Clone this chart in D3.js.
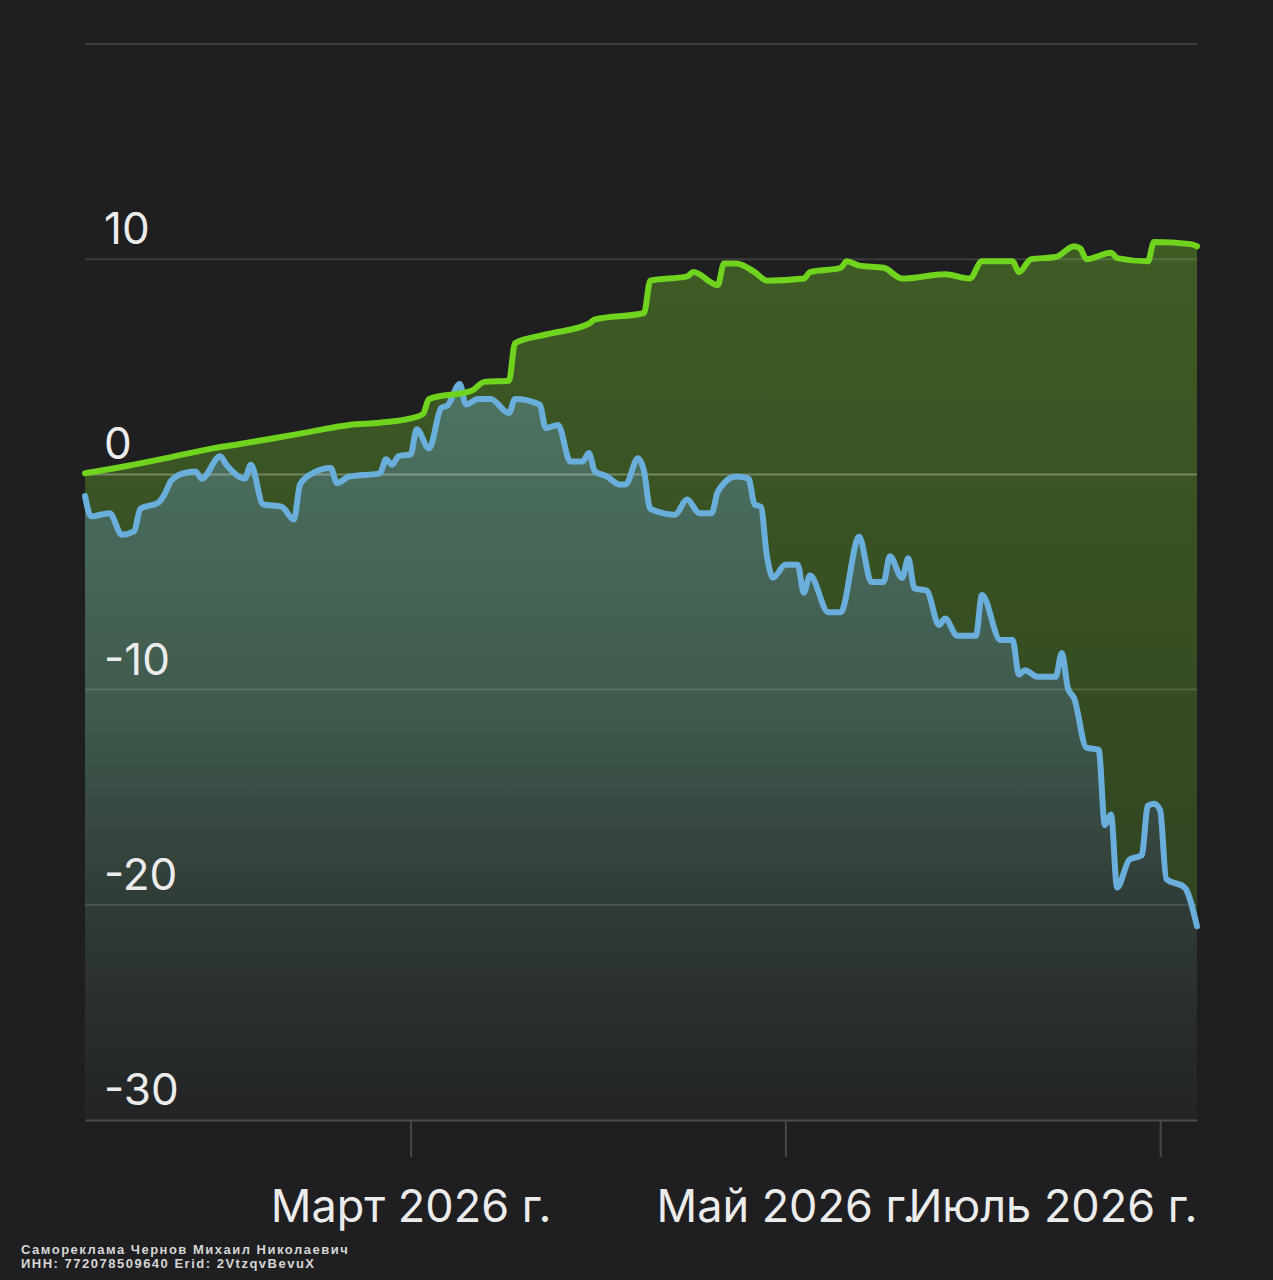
<!DOCTYPE html>
<html>
<head>
<meta charset="utf-8">
<script src="https://cdn.jsdelivr.net/npm/d3@7"></script>
<style>
  html, body { margin: 0; padding: 0; background: #1f1f21; }
  svg { display: block; }
</style>
</head>
<body>
<script>
// chart values
var greenDates = ["2026-01-07","2026-01-14","2026-01-21","2026-01-28","2026-02-01","2026-02-07","2026-02-13","2026-02-19","2026-02-24","2026-03-01",
  "2026-03-03","2026-03-04","2026-03-11","2026-03-13","2026-03-17","2026-03-18","2026-03-23","2026-03-30","2026-03-31","2026-04-08",
  "2026-04-09","2026-04-15","2026-04-16","2026-04-20","2026-04-21","2026-04-23","2026-04-26","2026-04-28","2026-05-04","2026-05-05",
  "2026-05-10","2026-05-11","2026-05-13","2026-05-17","2026-05-20","2026-05-27","2026-05-31","2026-06-02","2026-06-07","2026-06-08",
  "2026-06-10","2026-06-14","2026-06-17","2026-06-18","2026-06-19","2026-06-23","2026-06-24","2026-06-29","2026-06-30","2026-07-06","2026-07-07"];
var greenValues = [0.05,0.4,0.8,1.22,1.4,1.69,2.0,2.3,2.4,2.6,
  2.8,3.5,3.9,4.3,4.35,6.1,6.5,7.0,7.2,7.5,
  9.0,9.2,9.4,8.8,9.8,9.8,9.4,9.0,9.1,9.4,
  9.6,9.9,9.7,9.6,9.1,9.3,9.1,9.9,9.9,9.4,
  10.0,10.1,10.6,10.5,10.0,10.3,10.05,9.9,10.8,10.7,10.6];

var blueDates = ["2026-01-07","2026-01-08","2026-01-11","2026-01-13","2026-01-15","2026-01-16","2026-01-19","2026-01-20","2026-01-21","2026-01-23",
  "2026-01-25","2026-01-26","2026-01-29","2026-01-30","2026-02-02","2026-02-03","2026-02-05","2026-02-08","2026-02-10","2026-02-11",
  "2026-02-13","2026-02-16","2026-02-17","2026-02-19","2026-02-24","2026-02-25","2026-02-26","2026-02-27","2026-03-01","2026-03-02",
  "2026-03-04","2026-03-06","2026-03-07","2026-03-09","2026-03-10","2026-03-12","2026-03-14","2026-03-17","2026-03-18","2026-03-22",
  "2026-03-23","2026-03-25","2026-03-27","2026-03-29","2026-03-30","2026-03-31","2026-04-02","2026-04-04","2026-04-05","2026-04-07",
  "2026-04-08","2026-04-09","2026-04-13","2026-04-15","2026-04-17","2026-04-19","2026-04-20","2026-04-23","2026-04-25","2026-04-26",
  "2026-04-27","2026-04-28","2026-04-29","2026-05-01","2026-05-03","2026-05-04","2026-05-05","2026-05-08","2026-05-10","2026-05-13",
  "2026-05-15","2026-05-17","2026-05-18","2026-05-20","2026-05-21","2026-05-22","2026-05-24","2026-05-26","2026-05-27","2026-05-29",
  "2026-06-01","2026-06-02","2026-06-05","2026-06-07","2026-06-08","2026-06-09","2026-06-11","2026-06-14","2026-06-15","2026-06-16",
  "2026-06-17","2026-06-19","2026-06-21","2026-06-22","2026-06-23","2026-06-24","2026-06-26","2026-06-28","2026-06-29","2026-06-30",
  "2026-07-01","2026-07-02","2026-07-05","2026-07-07"];
var blueValues = [-1.0,-1.95,-1.8,-2.8,-2.65,-1.6,-1.3,-0.9,-0.3,0.05,
  0.14,-0.2,0.84,0.45,-0.2,0.45,-1.4,-1.5,-2.1,-0.47,
  0.05,0.3,-0.4,-0.1,0.05,0.7,0.45,0.84,0.93,2.1,
  1.2,3.1,3.2,4.2,3.25,3.5,3.5,2.85,3.5,3.25,
  2.15,2.3,0.6,0.6,1.0,0.14,-0.1,-0.47,-0.47,0.75,
  0.14,-1.6,-1.87,-1.17,-1.8,-1.8,-0.8,-0.1,-0.2,-1.4,
  -1.5,-3.8,-4.8,-4.2,-4.2,-5.5,-4.7,-6.4,-6.4,-2.9,
  -5.0,-5.0,-3.8,-4.8,-3.9,-5.3,-5.4,-7.0,-6.7,-7.5,
  -7.5,-5.6,-7.7,-7.7,-9.3,-9.1,-9.4,-9.4,-8.3,-9.95,
  -10.4,-12.7,-12.8,-16.3,-15.8,-19.2,-17.9,-17.7,-15.4,-15.3,
  -15.6,-18.8,-19.2,-21.0];

var yTicks = [20, 10, 0, -10, -20, -30];
var yTickLabels = ["", "10", "0", "-10", "-20", "-30"];
var xTicks = ["2026-03-01", "2026-05-01", "2026-07-01"];
var xTickLabels = ["Март 2026 г.", "Май 2026 г.", "Июль 2026 г."];

var footerLines = ["Самореклама Чернов Михаил Николаевич", "ИНН: 772078509640 Erid: 2VtzqvBevuX"];

var parse = d3.timeParse("%Y-%m-%d");
var green = greenDates.map(function(d, i) { return { date: parse(d), value: greenValues[i] }; });
var blue = blueDates.map(function(d, i) { return { date: parse(d), value: blueValues[i] }; });

var W = 1273, H = 1280;
var margin = { top: 44, right: 76, bottom: 160, left: 85 };
var x0 = margin.left, x1 = W - margin.right;
var yTop = margin.top, yBot = H - margin.bottom;

var x = d3.scaleTime()
  .domain([parse("2026-01-07"), parse("2026-07-07")])
  .range([x0, x1]);
var y = d3.scaleLinear().domain([-30, 20]).range([yBot, yTop]);

var svg = d3.select("body").append("svg")
  .attr("width", W)
  .attr("height", H);

svg.append("rect").attr("width", W).attr("height", H).attr("fill", "#1f1f21");

var defs = svg.append("defs");
var gg = defs.append("linearGradient").attr("id", "gGreen")
  .attr("gradientUnits", "userSpaceOnUse")
  .attr("x1", 0).attr("x2", 0).attr("y1", y(11)).attr("y2", yBot);
gg.append("stop").attr("offset", 0).attr("stop-color", "#3f5c25");
gg.append("stop").attr("offset", 1).attr("stop-color", "#2c3e20");

var bg = defs.append("linearGradient").attr("id", "gBlue")
  .attr("gradientUnits", "userSpaceOnUse")
  .attr("x1", 0).attr("x2", 0).attr("y1", y(4.5)).attr("y2", yBot);
bg.append("stop").attr("offset", 0).attr("stop-color", "#4e7462");
bg.append("stop").attr("offset", 0.45).attr("stop-color", "#3f5a4d");
bg.append("stop").attr("offset", 0.75).attr("stop-color", "#2e3733");
bg.append("stop").attr("offset", 1).attr("stop-color", "#222325");

var curve = d3.curveMonotoneX;

var area = d3.area()
  .x(function(d) { return x(d.date); })
  .y0(yBot)
  .y1(function(d) { return y(d.value); })
  .curve(curve);

var line = d3.line()
  .x(function(d) { return x(d.date); })
  .y(function(d) { return y(d.value); })
  .curve(curve);

// fills
svg.append("path").datum(green).attr("d", area).attr("fill", "url(#gGreen)");
svg.append("path").datum(blue).attr("d", area).attr("fill", "url(#gBlue)");

// grid lines on top of fills
svg.append("g").selectAll("line")
  .data(yTicks.slice(0, yTicks.length - 1))
  .enter().append("line")
  .attr("x1", x0).attr("x2", x1)
  .attr("y1", function(d) { return y(d); })
  .attr("y2", function(d) { return y(d); })
  .attr("stroke", "#ffffff")
  .attr("stroke-opacity", function(d) { return d === 0 ? 0.3 : 0.13; })
  .attr("stroke-width", 2);

// bottom axis
var xAxis = d3.axisBottom(x)
  .tickValues(xTicks.map(parse))
  .tickSizeInner(37)
  .tickSizeOuter(0)
  .tickFormat(function(d, i) { return xTickLabels[i]; });

var ax = svg.append("g")
  .attr("transform", "translate(0," + yBot + ")")
  .call(xAxis);
ax.select(".domain").attr("stroke", "#4d4d50").attr("stroke-width", 2);
ax.selectAll(".tick line").attr("stroke", "#48484b").attr("stroke-width", 2);
ax.selectAll(".tick text")
  .attr("fill", "#ececec")
  .attr("font-family", "Inter, 'Open Sans', sans-serif")
  .attr("font-size", 45)
  .attr("y", 102)
  .attr("dy", 0)
  .attr("text-anchor", function(d, i) { return i === xTicks.length - 1 ? "end" : "middle"; })
  .attr("x", function(d, i) { return i === xTicks.length - 1 ? x1 - x(d) : 0; });

// y labels
svg.append("g").selectAll("text")
  .data(yTicks)
  .enter().append("text")
  .attr("x", 104)
  .attr("y", function(d) { return y(d) - 15; })
  .attr("fill", "#ececec")
  .attr("font-family", "Inter, 'Open Sans', sans-serif")
  .attr("font-size", 44)
  .text(function(d, i) { return yTickLabels[i]; });

// lines
svg.append("path").datum(blue).attr("d", line)
  .attr("fill", "none").attr("stroke", "#6aaedc").attr("stroke-width", 6)
  .attr("stroke-linejoin", "round").attr("stroke-linecap", "round");
svg.append("path").datum(green).attr("d", line)
  .attr("fill", "none").attr("stroke", "#70d41e").attr("stroke-width", 6)
  .attr("stroke-linejoin", "round").attr("stroke-linecap", "round");

// footer
svg.append("g").selectAll("text")
  .data(footerLines)
  .enter().append("text")
  .attr("x", 21)
  .attr("y", function(d, i) { return 1254 + i * 14; })
  .attr("fill", "#d6d6d6")
  .attr("font-family", "'Liberation Sans', Arial, sans-serif")
  .attr("font-weight", "bold")
  .attr("font-size", 13)
  .attr("letter-spacing", 1.5)
  .text(function(d) { return d; });
</script>
</body>
</html>
